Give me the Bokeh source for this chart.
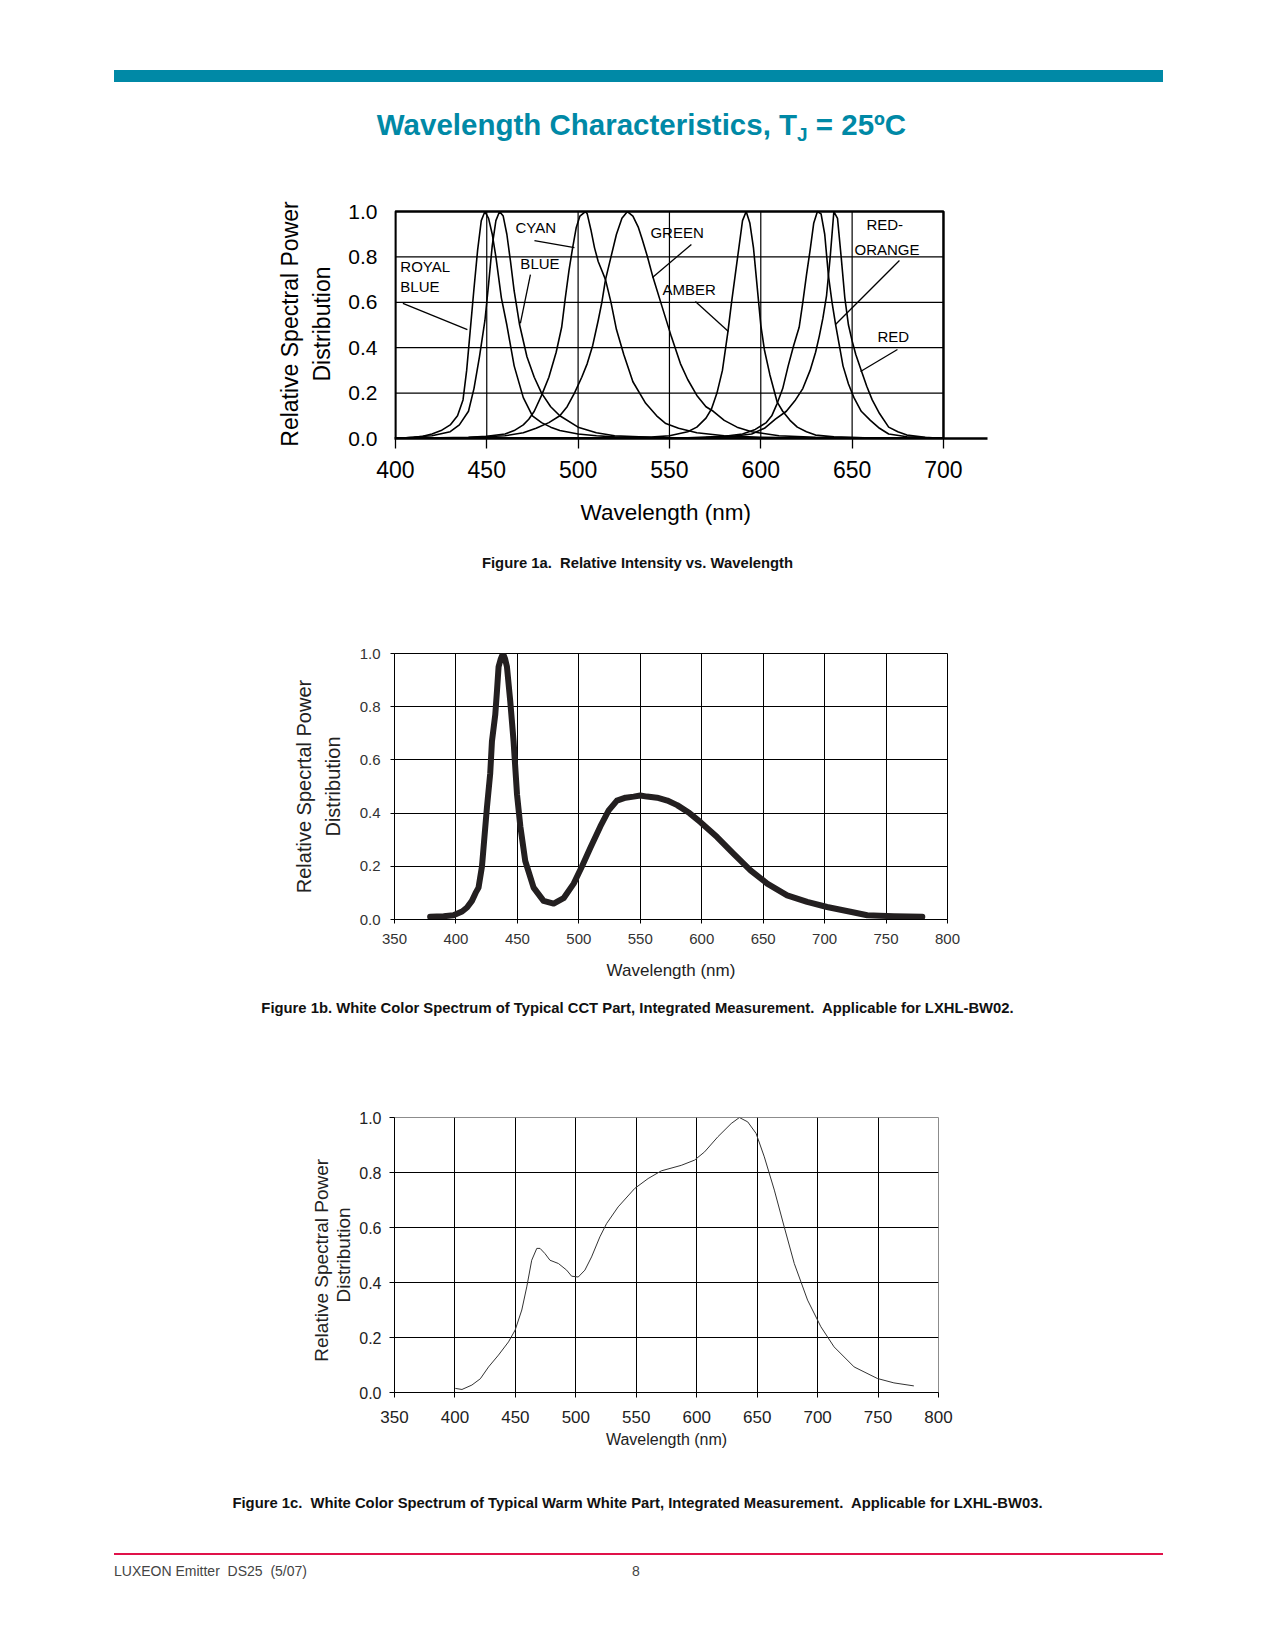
from bokeh.plotting import figure
from bokeh.layouts import column
from bokeh.models import Div, FixedTicker, Title
from bokeh.core.properties import value
from bokeh.embed import file_html
from bokeh.resources import INLINE

FONT = "Liberation Sans"
PAGE_W = 1259
LEFT = 386  # shared left border: Bokeh aligns the frames of the stacked figures

# ---------------- Figure 1a data ----------------
x_ticks_a = [400, 450, 500, 550, 600, 650, 700]
y_ticks_a = [0.0, 0.2, 0.4, 0.6, 0.8, 1.0]
y_tick_labels_a = ["0.0", "0.2", "0.4", "0.6", "0.8", "1.0"]

royal_x = [400, 410, 415, 420, 425, 430, 434, 437, 439, 441, 443, 445, 447, 449, 451, 453, 455, 458, 461, 465,
           470, 475, 480, 485, 490, 500, 510, 520, 540, 560, 600, 650, 700]
royal_y = [0.0, 0.005, 0.01, 0.02, 0.035, 0.06, 0.1, 0.17, 0.3, 0.48, 0.66, 0.83, 0.96, 1.0, 0.97, 0.9, 0.8, 0.62, 0.5, 0.32,
           0.18, 0.1, 0.07, 0.05, 0.035, 0.02, 0.012, 0.007, 0.004, 0.002, 0.001, 0.0, 0.0]

blue_x = [400, 420, 430, 435, 440, 443, 446, 449, 451, 453, 455, 457, 459, 461, 463, 465, 468, 472, 476, 480,
          485, 490, 500, 510, 520, 540, 560, 600, 700]
blue_y = [0.0, 0.012, 0.03, 0.06, 0.12, 0.22, 0.36, 0.52, 0.68, 0.85, 0.96, 1.0, 0.98, 0.9, 0.78, 0.65, 0.5, 0.36, 0.27, 0.2,
          0.14, 0.1, 0.05, 0.025, 0.012, 0.005, 0.002, 0.001, 0.0]

cyan_x = [400, 440, 450, 460, 465, 470, 473, 476, 480, 484, 488, 491, 493, 495, 497, 499, 501, 504, 505, 507,
          509, 511, 513, 515, 518, 521, 525, 530, 537, 543, 548, 555, 565, 580, 600, 650, 700]
cyan_y = [0.0, 0.005, 0.01, 0.02, 0.035, 0.06, 0.085, 0.12, 0.19, 0.27, 0.38, 0.49, 0.62, 0.74, 0.84, 0.93, 0.98, 1.0, 0.99, 0.92,
          0.84, 0.78, 0.74, 0.70, 0.6, 0.48, 0.37, 0.25, 0.155, 0.1, 0.066, 0.045, 0.025, 0.012, 0.005, 0.001, 0.0]

green_x = [400, 440, 460, 470, 477, 484, 490, 494, 498, 502, 505, 508, 511, 513, 515, 518, 521, 524, 527, 530,
           533, 535, 538, 541, 546, 551, 556, 560, 565, 570, 574, 580, 587, 595, 610, 630, 700]
green_y = [0.0, 0.004, 0.012, 0.025, 0.045, 0.07, 0.1, 0.14, 0.2, 0.27, 0.33, 0.41, 0.52, 0.6, 0.7, 0.8, 0.9, 0.97, 1.0, 0.98,
           0.93, 0.88, 0.8, 0.71, 0.58, 0.45, 0.33, 0.26, 0.19, 0.14, 0.12, 0.08, 0.05, 0.03, 0.012, 0.005, 0.0]

amber_x = [400, 520, 540, 550, 560, 565, 570, 573, 576, 579, 582, 584, 586, 588, 590, 592, 594, 596, 598, 600,
           602, 605, 609, 612, 616, 620, 625, 630, 640, 660, 700]
amber_y = [0.0, 0.002, 0.006, 0.012, 0.03, 0.05, 0.09, 0.13, 0.2, 0.3, 0.47, 0.6, 0.72, 0.84, 0.96, 1.0, 0.95, 0.84, 0.67, 0.5,
           0.39, 0.28, 0.16, 0.12, 0.08, 0.05, 0.03, 0.015, 0.007, 0.002, 0.0]

red_orange_x = [400, 560, 580, 590, 597, 603, 606, 609, 612, 615, 618, 621, 623, 625, 627, 629, 631, 633, 635, 637,
                639, 641, 643, 645, 648, 651, 655, 660, 665, 670, 680, 700]
red_orange_y = [0.0, 0.003, 0.01, 0.02, 0.04, 0.07, 0.1, 0.155, 0.22, 0.32, 0.41, 0.49, 0.6, 0.72, 0.83, 0.95, 1.0, 0.99, 0.9, 0.72,
                0.6, 0.5, 0.41, 0.32, 0.24, 0.18, 0.12, 0.08, 0.045, 0.02, 0.008, 0.0]

red_x = [400, 570, 585, 595, 602, 608, 614, 619, 623, 627, 630, 632, 634, 636, 638, 640, 642, 644, 646, 648,
         650, 652, 655, 658, 661, 665, 670, 675, 680, 690, 700]
red_y = [0.0, 0.004, 0.01, 0.02, 0.045, 0.085, 0.12, 0.17, 0.22, 0.3, 0.38, 0.45, 0.53, 0.63, 0.8, 1.0, 0.97, 0.8, 0.62, 0.5,
         0.43, 0.37, 0.3, 0.23, 0.17, 0.11, 0.05, 0.03, 0.015, 0.005, 0.0]

label_text_a = ["ROYAL", "BLUE", "CYAN", "BLUE", "GREEN", "AMBER", "RED-", "ORANGE", "RED"]
label_x_a = [402.7, 402.7, 465.7, 468.4, 539.6, 546.2, 657.8, 651.3, 663.9]
label_y_a = [0.758, 0.67, 0.93, 0.771, 0.907, 0.656, 0.943, 0.833, 0.449]

leader_x0 = [404.1, 476.1, 473.9, 562.0, 564.2, 675.9, 674.8]
leader_y0 = [0.595, 0.872, 0.722, 0.855, 0.604, 0.784, 0.392]
leader_x1 = [439.4, 498.0, 468.4, 540.7, 582.3, 640.9, 654.6]
leader_y1 = [0.48, 0.841, 0.507, 0.709, 0.471, 0.502, 0.295]

# ---------------- Figure 1b data ----------------
x_ticks_bc = [350, 400, 450, 500, 550, 600, 650, 700, 750, 800]
y_ticks_bc = [0.0, 0.2, 0.4, 0.6, 0.8, 1.0]
y_tick_labels_bc = ["0.0", "0.2", "0.4", "0.6", "0.8", "1.0"]

cct_x = [379, 390, 398, 405, 409, 413, 416, 418.4, 421.2, 423, 425.2, 427.9, 429.3, 432, 433.4, 434.7, 436.5, 438.3, 440, 441.5,
         444.2, 446.9, 449.7, 452.4, 456.4, 463.2, 471.3, 479.5, 487.6, 495.8, 502.6, 509.4, 517.5, 524.3, 531, 538, 544.6, 550, 555.5, 563.7,
         572, 580, 590, 599, 612.5, 626, 639.7, 653.3, 669.5, 685.8, 702, 721, 734.7, 745, 756.4, 768, 779.5]
cct_y = [0.01, 0.012, 0.016, 0.03, 0.045, 0.07, 0.1, 0.12, 0.2, 0.3, 0.42, 0.55, 0.67, 0.77, 0.86, 0.95, 0.98, 1.0, 0.98, 0.95,
         0.82, 0.67, 0.47, 0.35, 0.22, 0.12, 0.07, 0.06, 0.08, 0.135, 0.2, 0.27, 0.35, 0.41, 0.447, 0.458, 0.462, 0.466, 0.462, 0.458,
         0.447, 0.43, 0.4, 0.366, 0.31, 0.247, 0.185, 0.135, 0.091, 0.066, 0.047, 0.029, 0.016, 0.014, 0.012, 0.011, 0.01]

# ---------------- Figure 1c data ----------------
warm_x = [400.3, 405.8, 414, 421, 427.8, 436, 444.3, 449.8, 455.3, 459.4, 463.5, 467.7, 470.4, 474.5, 478.6, 485.6, 492.4, 496.5, 502, 507.5,
          513, 519.9, 525.4, 535, 548.7, 559.8, 570.7, 587.2, 598.2, 606.5, 617.5, 628.5, 635.3, 642.2, 649.1, 655.9, 664.2, 672.4, 680.7, 691.7,
          702.7, 713.6, 730.2, 749.4, 763.1, 779.6]
warm_y = [0.015, 0.011, 0.027, 0.05, 0.093, 0.136, 0.184, 0.227, 0.3, 0.384, 0.481, 0.524, 0.524, 0.505, 0.481, 0.469, 0.445, 0.423, 0.42, 0.445,
          0.493, 0.566, 0.614, 0.675, 0.742, 0.778, 0.806, 0.826, 0.845, 0.875, 0.93, 0.978, 1.0, 0.984, 0.942, 0.857, 0.736, 0.602, 0.469, 0.336,
          0.239, 0.166, 0.093, 0.051, 0.035, 0.024]

TEAL = "#0089a6"
RED_LINE = "#e0124a"


def div(html, h):
    return Div(text=html, width=PAGE_W, height=h, margin=(0, 0, 0, 0), align="start")


def caption(text, top, h):
    return div(
        f'<div style="position:relative;width:{PAGE_W}px;height:{h}px;">'
        f'<div style="position:absolute;left:0;top:{top}px;width:{PAGE_W}px;text-align:center;'
        f'font-family:\'{FONT}\';font-weight:bold;font-size:14.8px;line-height:18px;color:#111;white-space:nowrap;">{text}</div></div>', h)


header = div(
    f'<div style="position:relative;width:{PAGE_W}px;height:152px;">'
    f'<div style="position:absolute;left:106px;top:62px;width:1049px;height:12px;background:{TEAL};"></div>'
    f'<div style="position:absolute;left:4px;top:99px;width:{PAGE_W}px;text-align:center;font-family:\'{FONT}\';'
    f'font-weight:bold;font-size:29.5px;line-height:35px;color:{TEAL};white-space:nowrap;">'
    f'Wavelength Characteristics, T<sub style="font-size:19px;vertical-align:-6px;">J</sub> = 25ºC</div></div>', 152)

# ---------------- Figure 1a ----------------
pa = figure(frame_width=593, frame_height=229, x_range=(399.5, 724.1), y_range=(0, 1.009),
            min_border_left=LEFT, min_border_right=280, min_border_top=49, min_border_bottom=107,
            output_backend="svg", toolbar_location=None, align="start")
pa.outline_line_color = None
pa.xgrid.visible = False
pa.ygrid.visible = False
pa.background_fill_color = None
pa.border_fill_color = None

grid_v = x_ticks_a[1:-1]
grid_h = y_ticks_a[1:-1]
pa.segment(x0=grid_v, y0=[y_ticks_a[0]] * len(grid_v), x1=grid_v, y1=[y_ticks_a[-1]] * len(grid_v),
           line_color="black", line_width=1.2)
pa.segment(x0=[x_ticks_a[0]] * len(grid_h), y0=grid_h, x1=[x_ticks_a[-1]] * len(grid_h), y1=grid_h,
           line_color="black", line_width=1.2)
pa.quad(left=[x_ticks_a[0]], right=[x_ticks_a[-1]], bottom=[y_ticks_a[0]], top=[y_ticks_a[-1]],
        fill_color=None, line_color="black", line_width=2.5)

for xs, ys in [(royal_x, royal_y), (blue_x, blue_y), (cyan_x, cyan_y), (green_x, green_y),
               (amber_x, amber_y), (red_orange_x, red_orange_y), (red_x, red_y)]:
    pa.line(xs, ys, line_color="black", line_width=1.6)

pa.segment(x0=leader_x0, y0=leader_y0, x1=leader_x1, y1=leader_y1, line_color="black", line_width=1.3)
pa.text(x=label_x_a, y=label_y_a, text=label_text_a, text_font=value(FONT), text_font_size="15px",
        text_baseline="middle", text_align="left", text_color="black")

pa.xaxis.ticker = FixedTicker(ticks=x_ticks_a)
pa.xaxis.minor_tick_line_color = None
pa.xaxis.axis_line_width = 2.5
pa.xaxis.axis_line_color = "black"
pa.xaxis.major_tick_line_color = "black"
pa.xaxis.major_tick_line_width = 1.3
pa.xaxis.major_tick_out = 10
pa.xaxis.major_tick_in = 0
pa.xaxis.major_label_standoff = 12
pa.xaxis.major_label_text_font = FONT
pa.xaxis.major_label_text_font_size = "23px"
pa.xaxis.major_label_text_color = "black"

# x-axis title placed under the 400-700 box (the axis line itself runs past the box)
pa.add_layout(Title(text="Wavelength (nm)", align="left", offset=186, text_font=FONT,
                    text_font_size="22.5px", text_font_style="normal", text_color="black", standoff=35), "below")

pa.yaxis.ticker = FixedTicker(ticks=y_ticks_a)
pa.yaxis.major_label_overrides = dict(zip(y_ticks_a, y_tick_labels_a))
pa.yaxis.axis_line_color = None
pa.yaxis.major_tick_line_color = None
pa.yaxis.minor_tick_line_color = None
pa.yaxis.major_tick_out = 0
pa.yaxis.major_tick_in = 0
pa.yaxis.major_label_standoff = 17
pa.yaxis.major_label_text_font = FONT
pa.yaxis.major_label_text_font_size = "21px"
pa.yaxis.major_label_text_color = "black"
pa.yaxis.axis_label = "Relative Spectral Power\nDistribution"
pa.yaxis.axis_label_text_font = FONT
pa.yaxis.axis_label_text_font_size = "23px"
pa.yaxis.axis_label_text_font_style = "normal"
pa.yaxis.axis_label_text_color = "black"
pa.yaxis.axis_label_text_line_height = 1.245
pa.yaxis.axis_label_standoff = 10


def style_white(p, tick_out, label_size, label_color, xlabel_size, ylabel_size, lh, ystand, xlab_stand, ylab_stand):
    p.outline_line_color = "black"
    p.background_fill_color = None
    p.border_fill_color = None
    p.xgrid.ticker = FixedTicker(ticks=x_ticks_bc[1:-1])
    p.ygrid.ticker = FixedTicker(ticks=y_ticks_bc[1:-1])
    for g in (p.xgrid, p.ygrid):
        g.grid_line_color = "black"
        g.grid_line_alpha = 1.0
        g.grid_line_width = 1
    p.xaxis.ticker = FixedTicker(ticks=x_ticks_bc)
    p.yaxis.ticker = FixedTicker(ticks=y_ticks_bc)
    p.yaxis.major_label_overrides = dict(zip(y_ticks_bc, y_tick_labels_bc))
    for ax in (p.xaxis, p.yaxis):
        ax.axis_line_color = "black"
        ax.major_tick_line_color = "black"
        ax.minor_tick_line_color = None
        ax.major_tick_out = tick_out
        ax.major_tick_in = 0
        ax.major_label_text_font = FONT
        ax.major_label_text_font_size = label_size
        ax.major_label_text_color = label_color
        ax.axis_label_text_font = FONT
        ax.axis_label_text_font_style = "normal"
        ax.axis_label_text_color = "#222222"
    p.xaxis.major_label_standoff = xlab_stand
    p.yaxis.major_label_standoff = ylab_stand
    p.xaxis.axis_label_text_font_size = xlabel_size
    p.yaxis.axis_label_text_font_size = ylabel_size
    p.yaxis.axis_label_text_line_height = lh
    p.yaxis.axis_label_standoff = ystand


# ---------------- Figure 1b ----------------
pb = figure(frame_width=553, frame_height=266, x_range=(350, 800), y_range=(0, 1),
            min_border_left=LEFT, min_border_right=320, min_border_top=53, min_border_bottom=71,
            output_backend="svg", toolbar_location=None, align="start")
style_white(pb, 4, "15px", "#333333", "17px", "20px", 1.29, 13, 10, 10)
pb.xaxis.axis_label = "Wavelength (nm)"
pb.xaxis.axis_label_standoff = 14
pb.yaxis.axis_label = "Relative Specrtal Power\nDistribution"
pb.line(cct_x, cct_y, line_color="#231f20", line_width=6, line_join="round", line_cap="round")

# ---------------- Figure 1c ----------------
pc = figure(frame_width=544, frame_height=275, x_range=(350, 800), y_range=(0, 1),
            min_border_left=LEFT, min_border_right=329, min_border_top=57, min_border_bottom=78,
            output_backend="svg", toolbar_location=None, align="start")
style_white(pc, 5, "16px", "#222222", "16px", "19px", 1.08, 2, 13, 8)
pc.outline_line_color = "#8c8c8c"
pc.xaxis.major_label_text_font_size = "17px"
pc.xaxis.axis_label = "Wavelength (nm)"
pc.xaxis.axis_label_standoff = 5
pc.yaxis.axis_label = "Relative  Spectral  Power\nDistribution"
pc.line(warm_x, warm_y, line_color="#333333", line_width=1)

cap_a = caption("Figure 1a.&nbsp; Relative Intensity vs. Wavelength", 9, 55)
cap_b = caption("Figure 1b. White Color Spectrum of Typical CCT Part, Integrated Measurement.&nbsp; Applicable for LXHL-BW02.", 9, 70)
cap_c = caption("Figure 1c.&nbsp; White Color Spectrum of Typical Warm White Part, Integrated Measurement.&nbsp; Applicable for LXHL-BW03.", 24, 60)

footer = div(
    f'<div style="position:relative;width:{PAGE_W}px;height:70px;">'
    f'<div style="position:absolute;left:106px;top:23px;width:1049px;height:2px;background:{RED_LINE};"></div>'
    f'<div style="position:absolute;left:106px;top:33px;font-family:\'{FONT}\';font-size:14px;line-height:17px;'
    f'color:#444;white-space:pre;">LUXEON Emitter  DS25  (5/07)</div>'
    f'<div style="position:absolute;left:624px;top:33px;font-family:\'{FONT}\';font-size:14px;line-height:17px;'
    f'color:#444;">8</div></div>', 70)

layout = column(header, pa, cap_a, pb, cap_b, pc, cap_c, footer, spacing=0, margin=(8, 0, 0, 8), align="start")

with open("out.html", "w") as f:
    f.write(file_html(layout, INLINE))
